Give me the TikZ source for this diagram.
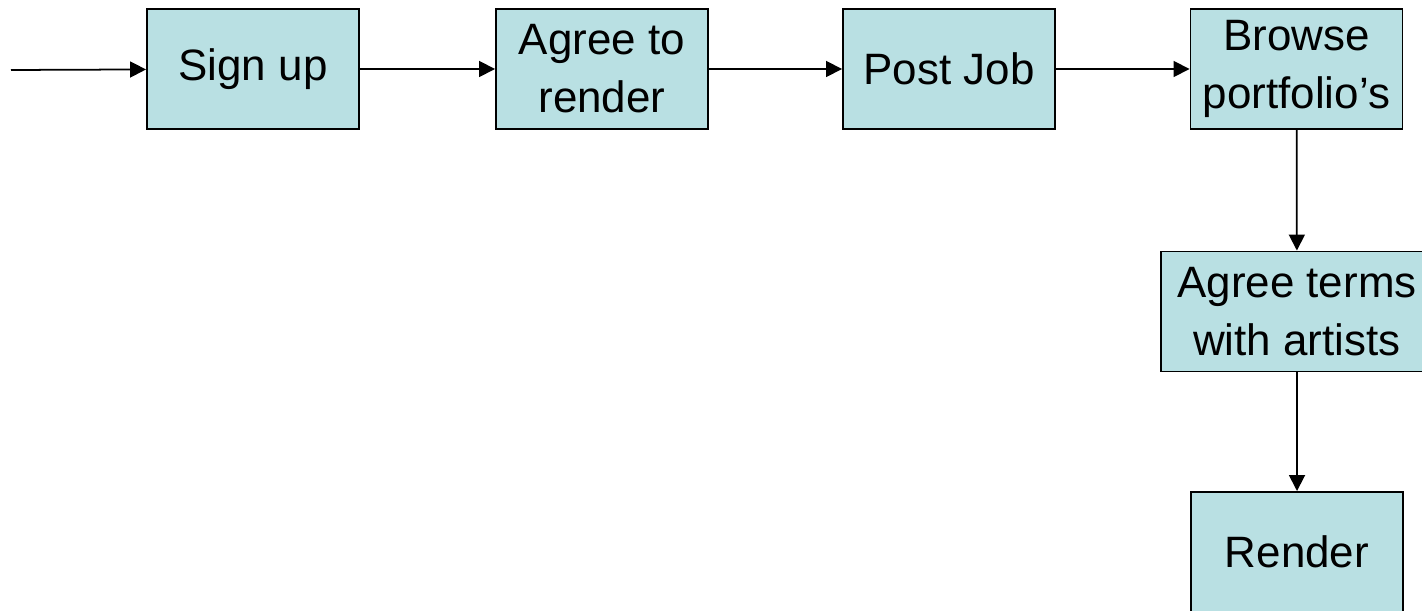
\documentclass[tikz,border=0pt]{standalone}
\usepackage{fontspec}
\setmainfont{Liberation Sans}
\usetikzlibrary{arrows.meta}
\definecolor{boxfill}{RGB}{185,224,227}

\begin{document}
\begin{tikzpicture}[
    stage/.style={draw=black, line width=1.1pt, fill=boxfill, minimum width=4.24cm,
      minimum height=2.4cm, align=center, inner sep=0pt,
      font=\fontsize{25}{33}\selectfont},
    flow/.style={line width=1pt, -{Triangle[length=0.32cm,width=0.32cm]}}
  ]
    \useasboundingbox (0,0) rectangle (28.44,-12.22);

    \coordinate (start) at (0.22,-1.4);
    \node[stage] (signup) at (5.06,-1.38) {Sign up};
    \node[stage] (agree) at (12.04,-1.38) {Agree to\\render};
    \node[stage] (post) at (18.98,-1.38) {Post Job};
    \node[stage] (browse) at (25.93,-1.38) {Browse\\portfolio’s};
    \node[stage, minimum width=5.44cm] (terms) at (25.94,-6.23) {Agree terms\\with artists};
    \node[stage] (render) at (25.94,-11.04) {Render};

    \draw[flow] (start) -- (signup);
    \draw[flow] (signup) -- (agree);
    \draw[flow] (agree) -- (post);
    \draw[flow] (post) -- (browse);
    \draw[flow] (browse) -- (terms);
    \draw[flow] (terms) -- (render);
\end{tikzpicture}
\end{document}
